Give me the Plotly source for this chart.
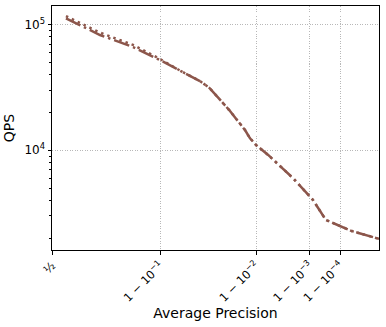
import numpy as np
import plotly.graph_objects as go

# average precision / QPS
precision = [0.580, 0.650, 0.735, 0.840, 0.899, 0.935, 0.955, 0.964, 0.978,
             0.9859, 0.9879, 0.9900, 0.9934, 0.9976, 0.99917, 0.99965,
             0.999976, 1.0]
qps_dashdot = [112500, 99500, 82800, 66400, 52400, 42000, 35600, 31300, 20900,
               14500, 12460, 11020, 9180, 6010, 4020, 2790, 2275, 1970]
qps_dotted = [117000, 104000, 86500, 69000, 53500, 42000, 35600, 31300, 20900,
              14500, 12460, 11020, 9180, 6010, 4020, 2790, 2275, 1970]

tick_prec = [0.5, 0.9, 0.99, 0.999, 0.9999]
tick_text = ["½", "1 − 10<sup>−1</sup>", "1 − 10<sup>−2</sup>",
             "1 − 10<sup>−3</sup>", "1 − 10<sup>−4</sup>"]

ALPHA = 4.0


def fun(p):
    # "a4" scale: 1 - (1 - x)^(1/alpha)
    return 1 - (1 - np.asarray(p, dtype=float)) ** (1 / ALPHA)


brown = "#8c564b"
font = "DejaVu Sans"

fig = go.Figure()
fig.add_trace(go.Scatter(x=fun(precision), y=qps_dotted, mode="lines",
                         line=dict(color=brown, width=2.5, dash="2.5px,4px"),
                         showlegend=False))
fig.add_trace(go.Scatter(x=fun(precision), y=qps_dashdot, mode="lines",
                         line=dict(color=brown, width=2.5,
                                   dash="16px,4px,2.5px,4px"),
                         showlegend=False))

fig.update_layout(
    width=386, height=327,
    margin=dict(l=52, r=7, t=6, b=77),
    plot_bgcolor="white", paper_bgcolor="white",
    font=dict(family=font, size=12, color="black"),
)
fig.update_xaxes(
    automargin=False,
    range=[float(fun(0.5)), 1.0],
    tickmode="array", tickvals=fun(tick_prec).tolist(), ticktext=tick_text,
    tickangle=-45, ticks="outside", ticklen=3.5, tickcolor="black",
    tickfont=dict(size=11.5),
    showline=True, linecolor="black", linewidth=1, mirror=True,
    showgrid=True, gridcolor="#b8b8b8", griddash="1px,1.5px", gridwidth=0.8,
    zeroline=False,
    title=dict(text="Average Precision", standoff=2),
)
fig.update_yaxes(
    automargin=False,
    type="log", range=[3.206, 5.149],
    tickmode="array", tickvals=[1e4, 1e5],
    ticktext=["10<sup>4</sup>", "10<sup>5</sup>"],
    ticks="outside", ticklen=3.5, tickcolor="black",
    tickfont=dict(size=12),
    minor=dict(ticks="outside", ticklen=2, dtick="D1", tickcolor="black",
               showgrid=False),
    showline=True, linecolor="black", linewidth=1, mirror=True,
    showgrid=True, gridcolor="#b8b8b8", griddash="1px,1.5px", gridwidth=0.8,
    zeroline=False,
    title=dict(text="QPS", standoff=6),
)

fig.write_html("out.html", config={"displayModeBar": False},
               post_script="document.body.style.margin='0';")
